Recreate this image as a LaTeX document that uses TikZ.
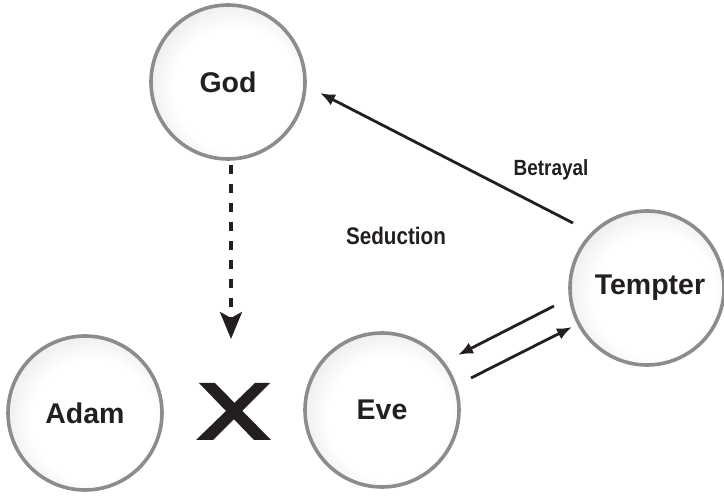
\documentclass[tikz,border=0pt]{standalone}
\usepackage{fontspec}
\setmainfont{Liberation Sans}
\newfontfamily\condfont[FakeStretch=0.86]{Liberation Sans}
\usetikzlibrary{arrows.meta}
\definecolor{ink}{HTML}{231F20}
\definecolor{rim}{HTML}{8C8C8E}
\pgfdeclareradialshading{ballgray}{\pgfpoint{4bp}{-4bp}}{color(0bp)=(white); color(20bp)=(white); color(50bp)=(black!26)}
\tikzset{
  ball/.style={circle, minimum size=154pt, inner sep=0pt, draw=rim, line width=3.6pt,
    shading=ballgray, text=ink, font=\bfseries\fontsize{28.5}{31}\selectfont},
  lbl/.style={text=ink, inner sep=0pt, font=\condfont\bfseries\fontsize{#1}{#1}\selectfont},
  solidarrow/.style={draw=ink, line width=2.8pt, -{Latex[length=15pt,width=12pt]}},
  dasharrow/.style={draw=ink, line width=3.6pt, dash pattern=on 9.5pt off 9.5pt,
    -{Stealth[length=27pt,width=22pt,inset=6pt]}}
}
\begin{document}
\begin{tikzpicture}[x=1pt,y=-1pt]
\useasboundingbox (0,0) rectangle (724,497);
% circles
\node[ball] (god) at (228,82) {God};
\node[ball] (adam) at (85,413) {Adam};
\node[ball] (eve) at (382,410) {Eve};
\node[ball] (tempter) at (647,288) {\hspace*{6pt}Tempter};
% labels
\node[lbl=22] (betrayal) at (551,170) {Betrayal};
\node[lbl=24] (seduction) at (396,236) {Seduction};
% the X mark
\fill[ink] (199,383) -- (215,383) -- (271,440) -- (254,440) -- cycle;
\fill[ink] (255,383) -- (270,383) -- (213,440) -- (196,440) -- cycle;
\coordinate (xtop) at (231,339);
% connector end points
\coordinate (betS) at (573,223);
\coordinate (betE) at (320,93);
\coordinate (s1S) at (554,306);
\coordinate (s1E) at (458,355);
\coordinate (s2S) at (471,378);
\coordinate (s2E) at (572,327);
\coordinate (dS) at (231,165);
% connectors
\draw[dasharrow] (dS) -- (xtop);
\draw[solidarrow] (betS) -- (betE);
\draw[solidarrow] (s1S) -- (s1E);
\draw[solidarrow] (s2S) -- (s2E);
\end{tikzpicture}
\end{document}
